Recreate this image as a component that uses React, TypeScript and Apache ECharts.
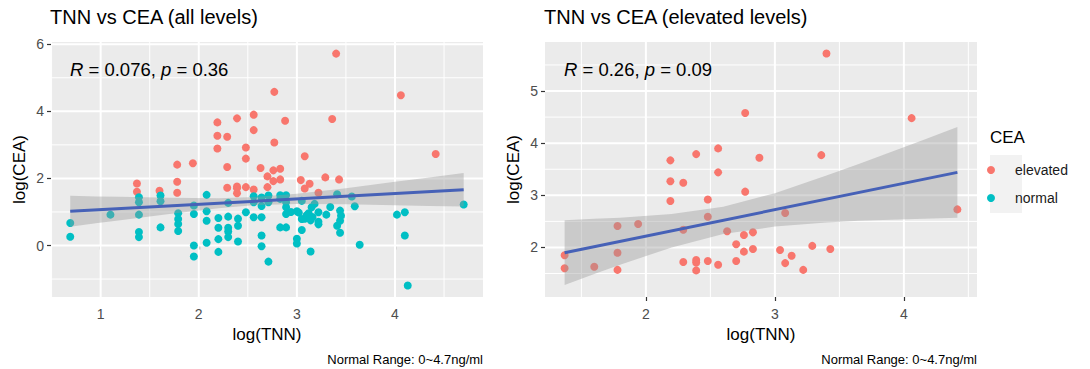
import React, { useEffect, useRef } from "react";
import * as echarts from "echarts";

// ---- data (log scale values) ----
const elevatedPts: [number, number][] = [
  [3.40, 5.72], [2.77, 4.58], [4.06, 4.48], [2.56, 3.90], [2.39, 3.79], [3.36, 3.77],
  [2.88, 3.72], [2.19, 3.67], [2.56, 3.44], [2.19, 3.27], [2.29, 3.24], [2.77, 3.07],
  [2.19, 2.89], [2.48, 2.92], [2.48, 2.59], [3.08, 2.66], [4.415, 2.73], [1.94, 2.45],
  [1.78, 2.41], [2.29, 2.34], [2.63, 2.31], [2.76, 2.24], [2.83, 2.29], [1.78, 1.90],
  [1.37, 1.85], [2.70, 2.06], [2.76, 1.92], [2.83, 1.97], [3.04, 1.95], [3.29, 2.03],
  [3.43, 1.97], [1.37, 1.60], [1.60, 1.63], [1.78, 1.57], [2.29, 1.72], [2.39, 1.76],
  [2.39, 1.71], [2.39, 1.56], [2.48, 1.74], [2.56, 1.67], [2.70, 1.74], [3.08, 1.70],
  [3.13, 1.84], [3.22, 1.57],
];

const normalPts: [number, number][] = [
  [0.69, 0.67], [0.69, 0.26], [1.10, 0.92],
  [1.39, 1.44], [1.39, 1.29], [1.39, 0.92], [1.39, 0.40], [1.39, 0.25],
  [1.61, 1.49], [1.61, 1.32], [1.61, 0.54],
  [1.79, 0.96], [1.79, 0.79], [1.79, 0.64], [1.79, 0.43],
  [1.95, 1.19], [1.95, 0.94], [1.95, 0.00], [1.95, -0.33],
  [2.08, 1.51], [2.08, 1.02], [2.08, 0.74], [2.08, 0.08],
  [2.20, 0.82], [2.20, 0.53], [2.20, 0.19], [2.20, -0.19],
  [2.30, 1.27], [2.30, 0.86], [2.30, 0.53], [2.30, 0.42], [2.30, 0.25],
  [2.40, 0.80], [2.40, 0.59], [2.40, 0.12],
  [2.48, 0.99],
  [2.56, 1.47], [2.56, 1.29], [2.56, 0.84],
  [2.64, 1.43], [2.64, 1.18], [2.64, 0.84], [2.64, 0.30], [2.64, -0.02],
  [2.71, 1.49], [2.71, 1.29], [2.71, -0.48],
  [2.83, 1.50], [2.83, 1.39], [2.83, 0.54],
  [2.89, 1.50], [2.89, 1.29], [2.89, 1.14], [2.89, 0.94], [2.89, 0.54],
  [2.94, 1.00], [3.00, 1.02], [3.00, 0.20], [3.00, 0.06], [3.02, 0.98],
  [3.05, 1.33], [3.05, 0.79], [3.05, 0.46], [3.08, 0.80],
  [3.10, 0.90], [3.12, 0.96], [3.14, 0.75], [3.15, 1.14], [3.16, 0.85], [3.18, 1.24], [3.14, -0.18],
  [3.22, 0.99], [3.22, 0.71], [3.22, 0.63],
  [3.30, 0.92], [3.34, 1.15], [3.41, 1.53],
  [3.44, 1.04], [3.45, 0.89], [3.44, 0.74], [3.41, 0.59], [3.44, 0.38],
  [3.56, 1.46], [3.59, 1.17], [3.64, 0.02],
  [4.02, 0.92], [4.10, 0.99], [4.10, 0.30], [4.13, -1.19], [4.70, 1.22],
];

// fitted lines and confidence ribbons
const fitAllX = [0.69, 4.70];
const fitAllY = [1.02, 1.66];
const ribbonAllX = [0.69, 0.95, 1.2, 1.7, 2.2, 2.6, 3.0, 3.5, 4.0, 4.35, 4.70];
const ribbonAllLo = [0.56, 0.66, 0.75, 0.94, 1.11, 1.21, 1.24, 1.23, 1.20, 1.18, 1.16];
const ribbonAllHi = [1.48, 1.46, 1.45, 1.42, 1.41, 1.45, 1.54, 1.71, 1.90, 2.03, 2.16];

const fitElevX = [1.37, 4.415];
const fitElevY = [1.90, 3.44];
const ribbonElevX = [1.37, 1.6, 1.8, 2.2, 2.6, 3.0, 3.4, 3.65, 3.9, 4.15, 4.415];
const ribbonElevLo = [1.28, 1.49, 1.67, 2.00, 2.26, 2.40, 2.48, 2.51, 2.53, 2.55, 2.57];
const ribbonElevHi = [2.52, 2.55, 2.57, 2.64, 2.78, 3.04, 3.38, 3.60, 3.83, 4.06, 4.31];

// axis ranges / ticks
const xRangeAll = [0.494, 4.897];
const yRangeAll = [-1.535, 6.066];
const xRangeElev = [1.218, 4.567];
const yRangeElev = [1.05, 5.94];
const xTicksAll = [1, 2, 3, 4];
const xMinorAll = [0.5, 1.5, 2.5, 3.5, 4.5];
const yTicksAll = [0, 2, 4, 6];
const yMinorAll = [-1, 1, 3, 5];
const xTicksElev = [2, 3, 4];
const xMinorElev = [1.5, 2.5, 3.5, 4.5];
const yTicksElev = [2, 3, 4, 5];
const yMinorElev = [1.5, 2.5, 3.5, 4.5, 5.5];

const titles = ["TNN vs CEA (all levels)", "TNN vs CEA (elevated levels)"];
const statTexts = ["{i|R} = 0.076, {i|p} = 0.36", "{i|R} = 0.26, {i|p} = 0.09"];
const caption = "Normal Range: 0~4.7ng/ml";
const legendNames = ["elevated", "normal"];

const FONT = "'Liberation Sans', Arial, Helvetica, sans-serif";
const RED = "#F8766D";
const TEAL = "#00BFC4";
const BLUE = "#4661B7";

const PANEL_L = [51, 545];
const PANEL_W = 432;
const PANEL_T = 42;
const PANEL_H = 255;

function gridLines(idx: number, xr: number[], yr: number[], xMaj: number[], xMin: number[], yMaj: number[], yMin: number[]) {
  const mk = (pts: number[][], w: number) => ({
    type: "line",
    xAxisIndex: idx,
    yAxisIndex: idx,
    silent: true,
    z: 1,
    showSymbol: false,
    symbol: "none",
    data: pts,
    lineStyle: { color: "#ffffff", width: w },
    emphasis: { disabled: true },
  });
  return [
    ...xMin.map((v) => mk([[v, yr[0]], [v, yr[1]]], 1)),
    ...yMin.map((v) => mk([[xr[0], v], [xr[1], v]], 1)),
    ...xMaj.map((v) => mk([[v, yr[0]], [v, yr[1]]], 2)),
    ...yMaj.map((v) => mk([[xr[0], v], [xr[1], v]], 2)),
  ];
}

function ribbon(idx: number, xs: number[], lo: number[], hi: number[]) {
  return {
    type: "custom",
    xAxisIndex: idx,
    yAxisIndex: idx,
    z: 7,
    silent: true,
    encode: { x: 0, y: [1, 2] },
    data: xs.map((x, i) => [x, lo[i], hi[i]]),
    renderItem: (params: any, api: any) => {
      if (params.dataIndex !== 0) return null;
      const top = xs.map((x, i) => api.coord([x, hi[i]]));
      const bottom = xs.map((x, i) => api.coord([x, lo[i]])).reverse();
      return {
        type: "polygon",
        shape: { points: top.concat(bottom) },
        style: { fill: "rgba(153,153,153,0.4)", stroke: "none" },
      };
    },
  };
}

function fitLine(idx: number, xs: number[], ys: number[]) {
  return {
    type: "line",
    xAxisIndex: idx,
    yAxisIndex: idx,
    z: 8,
    silent: true,
    showSymbol: false,
    data: xs.map((x, i) => [x, ys[i]]),
    lineStyle: { color: BLUE, width: 3 },
  };
}

function scatter(idx: number, name: string, pts: [number, number][], color: string) {
  return {
    type: "scatter",
    name,
    xAxisIndex: idx,
    yAxisIndex: idx,
    z: 5,
    symbol: "circle",
    symbolSize: 8,
    itemStyle: { color, opacity: 1 },
    data: pts,
  };
}

function xAxisOpt(idx: number, r: number[], ticks: number[]) {
  return {
    gridIndex: idx,
    type: "value",
    min: r[0],
    max: r[1],
    splitLine: { show: false },
    axisLine: { show: false },
    axisTick: { show: true, customValues: ticks, length: 4, lineStyle: { color: "#333333", width: 1.2 } },
    axisLabel: { customValues: ticks, color: "#4D4D4D", fontSize: 14, margin: 10, fontFamily: FONT },
    name: "log(TNN)",
    nameLocation: "middle",
    nameGap: 29,
    nameTextStyle: { fontSize: 17, color: "#000000", fontFamily: FONT },
  };
}

function yAxisOpt(idx: number, r: number[], ticks: number[]) {
  return {
    gridIndex: idx,
    type: "value",
    min: r[0],
    max: r[1],
    splitLine: { show: false },
    axisLine: { show: false },
    axisTick: { show: true, customValues: ticks, length: 4, lineStyle: { color: "#333333", width: 1.2 } },
    axisLabel: { customValues: ticks, color: "#4D4D4D", fontSize: 14, margin: 7, fontFamily: FONT },
    name: "log(CEA)",
    nameLocation: "middle",
    nameRotate: 90,
    nameGap: 23,
    nameTextStyle: { fontSize: 17, color: "#000000", fontFamily: FONT },
  };
}

export default function App() {
  const ref = useRef<HTMLDivElement>(null);
  useEffect(() => {
    if (!ref.current) return;
    const chart = echarts.init(ref.current, undefined, { renderer: "svg" });
    const option: any = {
      animation: false,
      backgroundColor: "#ffffff",
      textStyle: { fontFamily: FONT },
      title: titles.map((t, i) => ({
        text: t,
        left: PANEL_L[i] - 1,
        top: 7,
        padding: 0,
        textStyle: { fontSize: 20, fontWeight: "normal", color: "#000000", fontFamily: FONT },
      })),
      grid: PANEL_L.map((l) => ({
        left: l,
        top: PANEL_T,
        width: PANEL_W,
        height: PANEL_H,
        show: true,
        backgroundColor: "#EBEBEB",
        borderWidth: 0,
        containLabel: false,
      })),
      xAxis: [xAxisOpt(0, xRangeAll, xTicksAll), xAxisOpt(1, xRangeElev, xTicksElev)],
      yAxis: [yAxisOpt(0, yRangeAll, yTicksAll), yAxisOpt(1, yRangeElev, yTicksElev)],
      legend: {
        orient: "vertical",
        left: 987,
        top: 163,
        padding: 0,
        itemWidth: 38,
        itemHeight: 8,
        itemGap: 14,
        icon: "circle",
        selectedMode: false,
        data: legendNames,
        textStyle: { fontSize: 14, color: "#1A1A1A", fontFamily: FONT },
      },
      graphic: [
        { type: "rect", left: 990, top: 155, shape: { width: 32, height: 29 }, style: { fill: "#F2F2F2" }, z: -1 },
        { type: "rect", left: 990, top: 184, shape: { width: 32, height: 29 }, style: { fill: "#F2F2F2" }, z: -1 },
        {
          type: "text",
          x: 990,
          y: 137,
          style: { text: "CEA", fontSize: 17, fill: "#000000", fontFamily: FONT, verticalAlign: "middle", align: "left" },
        },
        ...statTexts.map((t, i) => ({
          type: "text",
          x: PANEL_L[i] + 19,
          y: 69,
          z: 10,
          style: {
            text: t,
            fontSize: 18.5,
            fill: "#000000",
            fontFamily: FONT,
            verticalAlign: "middle",
            align: "left",
            rich: { i: { fontStyle: "italic", fontSize: 18.5, fontFamily: FONT, fill: "#000000" } },
          },
        })),
        ...PANEL_L.map((l) => ({
          type: "text",
          x: l + PANEL_W,
          y: 359,
          style: { text: caption, fontSize: 13, fill: "#000000", fontFamily: FONT, verticalAlign: "middle", align: "right" },
        })),
      ],
      series: [
        ...gridLines(0, xRangeAll, yRangeAll, xTicksAll, xMinorAll, yTicksAll, yMinorAll),
        ...gridLines(1, xRangeElev, yRangeElev, xTicksElev, xMinorElev, yTicksElev, yMinorElev),
        scatter(0, "elevated", elevatedPts, RED),
        scatter(0, "normal", normalPts, TEAL),
        scatter(1, "elevated", elevatedPts, RED),
        ribbon(0, ribbonAllX, ribbonAllLo, ribbonAllHi),
        ribbon(1, ribbonElevX, ribbonElevLo, ribbonElevHi),
        fitLine(0, fitAllX, fitAllY),
        fitLine(1, fitElevX, fitElevY),
      ],
    };
    chart.setOption(option);
    return () => chart.dispose();
  }, []);
  return <div ref={ref} style={{ position: "absolute", left: 0, top: 0, width: 1090, height: 369 }} />;
}
